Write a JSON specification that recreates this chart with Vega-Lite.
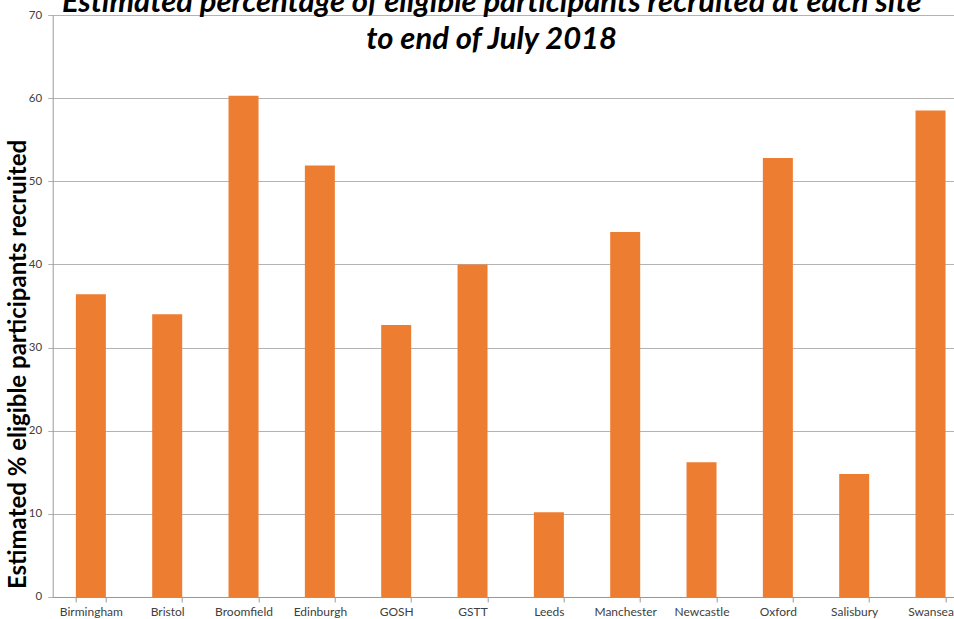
{
  "$schema": "https://vega.github.io/schema/vega-lite/v6.json",
  "autosize": "none",
  "width": 916,
  "height": 582,
  "padding": {"left": 52.7, "top": 15, "right": 0, "bottom": 22},
  "background": "white",
  "title": {
    "text": ["Estimated percentage of eligible participants recruited at each site", "to end of July 2018"],
    "font": "Lato",
    "fontSize": 31,
    "fontWeight": "bold",
    "fontStyle": "italic",
    "color": "#000000",
    "lineHeight": 37,
    "anchor": "middle",
    "frame": "group",
    "orient": "top",
    "baseline": "alphabetic",
    "offset": -71,
    "dx": -19
  },
  "data": {
    "values": [
      {"site": "Birmingham", "pct": 36.4},
      {"site": "Bristol", "pct": 34.0},
      {"site": "Broomfield", "pct": 60.3},
      {"site": "Edinburgh", "pct": 51.9},
      {"site": "GOSH", "pct": 32.7},
      {"site": "GSTT", "pct": 40.0},
      {"site": "Leeds", "pct": 10.2},
      {"site": "Manchester", "pct": 43.9},
      {"site": "Newcastle", "pct": 16.2},
      {"site": "Oxford", "pct": 52.8},
      {"site": "Salisbury", "pct": 14.8},
      {"site": "Swansea", "pct": 58.5}
    ]
  },
  "mark": {"type": "bar", "color": "#ED7D31"},
  "encoding": {
    "x": {
      "field": "site",
      "type": "nominal",
      "sort": null,
      "scale": {"paddingInner": 0.607, "paddingOuter": 0.3035},
      "axis": {
        "title": null,
        "labelAngle": 0,
        "labelFont": "Lato",
        "labelFontSize": 12,
        "labelColor": "#404040",
        "labelPadding": 5,
        "tickBand": "extent",
        "tickSize": 5,
        "tickColor": "#999999",
        "domainColor": "#999999",
        "grid": false
      }
    },
    "y": {
      "field": "pct",
      "type": "quantitative",
      "scale": {"domain": [0, 70], "nice": false},
      "axis": {
        "title": "Estimated % eligible participants recruited",
        "titleFont": "Lato",
        "titleFontSize": 24,
        "titleFontWeight": "bold",
        "titleColor": "#000000",
        "titleAngle": -90,
        "titleBaseline": "middle",
        "titleAlign": "center",
        "titleX": -34,
        "titleY": 349,
        "values": [0, 10, 20, 30, 40, 50, 60, 70],
        "labelFont": "Lato",
        "labelFontSize": 11.5,
        "labelColor": "#404040",
        "labelPadding": 6,
        "tickSize": 5,
        "tickColor": "#b3b3b3",
        "gridColor": "#b3b3b3",
        "domainColor": "#999999"
      }
    }
  },
  "config": {
    "view": {"stroke": null}
  }
}
